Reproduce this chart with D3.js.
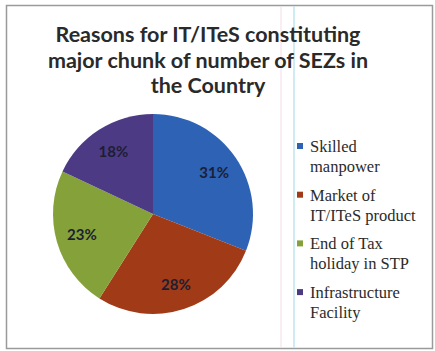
<!DOCTYPE html>
<html>
<head>
<meta charset="utf-8">
<script src="https://cdn.jsdelivr.net/npm/d3@7"></script>
<style>
  body { margin: 0; background: #fff; }
  svg { display: block; }
</style>
</head>
<body>
<div id="chart"></div>
<script>
// chart data
const reasons = ["Skilled manpower", "Market of IT/ITeS product", "End of Tax holiday in STP", "Infrastructure Facility"];
const legendLines = [["Skilled", "manpower"], ["Market of", "IT/ITeS product"], ["End of Tax", "holiday in STP"], ["Infrastructure", "Facility"]];
const shares = [31, 28, 23, 18];
const sliceColors = ["#2d62b5", "#a13a16", "#85a23a", "#4d3a85"];
const titleLines = ["Reasons for IT/ITeS constituting", "major chunk of number of SEZs in", "the Country"];

const width = 435, height = 351;

const svg = d3.select("#chart")
  .append("svg")
  .attr("width", width)
  .attr("height", height);

// outer frame
svg.append("rect")
  .attr("x", 6.5).attr("y", 5.5)
  .attr("width", 426).attr("height", 343)
  .attr("fill", "#fff")
  .attr("stroke", "#9a9a9a")
  .attr("stroke-width", 1.5);

// scan lines seen in the picture
svg.append("line")
  .attr("x1", 281).attr("x2", 281).attr("y1", 6).attr("y2", 348)
  .attr("stroke", "#f3dde6").attr("stroke-width", 1);
svg.append("line")
  .attr("x1", 294).attr("x2", 294).attr("y1", 6).attr("y2", 348)
  .attr("stroke", "#bfe6ef").attr("stroke-width", 1.5);

// title
svg.append("text")
  .attr("x", 208)
  .attr("font-family", "Lato, 'Open Sans', sans-serif")
  .attr("font-weight", "bold")
  .attr("font-size", 21.5)
  .attr("fill", "#2a2a2a")
  .attr("text-anchor", "middle")
  .selectAll("tspan")
  .data(titleLines)
  .enter()
  .append("tspan")
  .attr("x", 208)
  .attr("y", (d, i) => 42 + i * 25.5)
  .text(d => d);

// pie
const cx = 153, cy = 214, radius = 100;
const pie = d3.pie().sort(null).value(d => d);
const arc = d3.arc().innerRadius(0).outerRadius(radius);
const labelArc = d3.arc().innerRadius(radius * 0.74).outerRadius(radius * 0.74);

const pieGroup = svg.append("g").attr("transform", `translate(${cx},${cy})`);
const arcs = pie(shares);

pieGroup.selectAll("path")
  .data(arcs)
  .enter()
  .append("path")
  .attr("d", arc)
  .attr("fill", (d, i) => sliceColors[i]);

pieGroup.selectAll("text")
  .data(arcs)
  .enter()
  .append("text")
  .attr("x", d => labelArc.centroid(d)[0])
  .attr("y", d => labelArc.centroid(d)[1])
  .attr("dy", "0.35em")
  .attr("text-anchor", "middle")
  .attr("font-family", "Lato, 'Open Sans', sans-serif")
  .attr("font-weight", "bold")
  .attr("font-size", 15)
  .attr("fill", "#1c1f33")
  .text(d => d.data + "%");

// legend
const legend = svg.append("g").attr("class", "legend");
const items = legend.selectAll("g")
  .data(reasons)
  .enter()
  .append("g")
  .attr("transform", (d, i) => `translate(297,${147 + i * 48.7})`);

items.append("rect")
  .attr("x", 0).attr("y", -4)
  .attr("width", 6).attr("height", 6)
  .attr("fill", (d, i) => sliceColors[i]);

items.append("text")
  .attr("font-family", "'Liberation Serif', 'Times New Roman', serif")
  .attr("font-size", 16.5)
  .attr("fill", "#2b2b2b")
  .selectAll("tspan")
  .data((d, i) => legendLines[i])
  .enter()
  .append("tspan")
  .attr("x", 13)
  .attr("y", (d, j) => 5 + j * 20)
  .text(d => d);
</script>
</body>
</html>
